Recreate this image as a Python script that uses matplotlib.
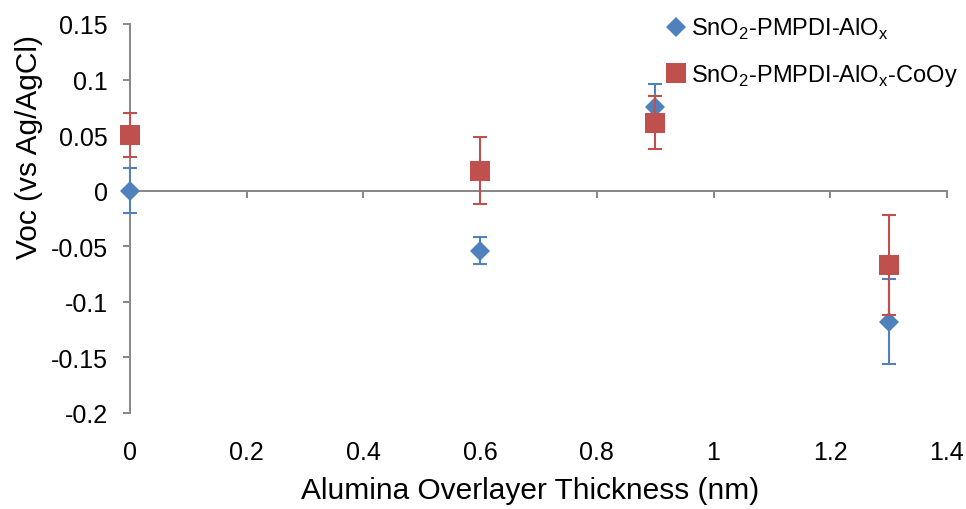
import matplotlib.pyplot as plt
from matplotlib.ticker import FormatStrFormatter

plt.rcParams['font.family'] = ['Liberation Sans', 'DejaVu Sans']
plt.rcParams['mathtext.fontset'] = 'custom'
plt.rcParams['mathtext.rm'] = 'Liberation Sans'
plt.rcParams['axes.unicode_minus'] = False

# thickness of alumina overlayer (nm)
thickness = [0, 0.6, 0.9, 1.3]

# SnO2-PMPDI-AlOx
voc_alox = [0.0, -0.054, 0.075, -0.118]
err_alox = [0.020, 0.012, 0.021, 0.038]

# SnO2-PMPDI-AlOx-CoOy
voc_cooy = [0.050, 0.018, 0.061, -0.067]
err_cooy = [0.020, 0.030, 0.024, 0.045]

xticks = [0, 0.2, 0.4, 0.6, 0.8, 1.0, 1.2, 1.4]
yticks = [-0.2, -0.15, -0.1, -0.05, 0, 0.05, 0.1, 0.15]

blue = '#4F81BD'
red = '#C0504D'
axis_grey = '#868686'

fig = plt.figure(figsize=(9.66, 5.1), dpi=100)
ax = fig.add_axes([0.1346, 0.1888, 0.8457, 0.7622])

# blue series first, then red on top
ax.errorbar(thickness, voc_alox, yerr=err_alox, fmt='none', ecolor=blue,
            elinewidth=1.5, capsize=5, capthick=1.5, clip_on=False, zorder=3)
h1, = ax.plot(thickness, voc_alox, linestyle='none', marker='D', ms=10.5,
              color=blue, mew=0, clip_on=False, zorder=4,
              label=r'SnO$_\mathregular{2}$-PMPDI-AlO$_\mathregular{x}$')
ax.errorbar(thickness, voc_cooy, yerr=err_cooy, fmt='none', ecolor=red,
            elinewidth=1.5, capsize=5, capthick=1.5, clip_on=False, zorder=5)
h2, = ax.plot(thickness, voc_cooy, linestyle='none', marker='s', ms=14.4,
              color=red, mew=0, clip_on=False, zorder=6,
              label=r'SnO$_\mathregular{2}$-PMPDI-AlO$_\mathregular{x}$-CoOy')

ax.set_xlim(0, 1.4)
ax.set_ylim(-0.2, 0.15)

# axis lines: y at x=0, x crossing at y=0
for side in ['top', 'right']:
    ax.spines[side].set_visible(False)
ax.spines['bottom'].set_position(('data', 0))
ax.spines['bottom'].set_color(axis_grey)
ax.spines['left'].set_color(axis_grey)
ax.spines['bottom'].set_linewidth(1.4)
ax.spines['left'].set_linewidth(1.4)
ax.spines['bottom'].set_zorder(2)

ax.set_xticks(xticks)
ax.set_yticks(yticks)
ax.yaxis.set_major_formatter(FormatStrFormatter('%g'))
ax.tick_params(axis='x', direction='out', length=5, width=1.4,
               color=axis_grey, labelbottom=False)
ax.tick_params(axis='y', direction='out', length=5, width=1.4,
               color=axis_grey, labelsize=18, pad=11)

# tick labels along the bottom of the plot area
sec = ax.secondary_xaxis('bottom')
sec.spines['bottom'].set_visible(False)
sec.set_xticks(xticks)
sec.xaxis.set_major_formatter(FormatStrFormatter('%g'))
sec.tick_params(length=0, labelsize=18, pad=20)
sec.set_xlabel('Alumina Overlayer Thickness (nm)', fontsize=21.5)
sec.xaxis.set_label_coords(0.49, -0.163, transform=ax.transAxes)

ax.set_ylabel('Voc (vs Ag/AgCl)', fontsize=21.5)
ax.yaxis.set_label_coords(-0.107, 0.686)

fig.legend(handles=[h1, h2], loc='upper left',
           bbox_to_anchor=(664 / 966, 1 - 17 / 510), frameon=False,
           fontsize=17, handlelength=1.0, handletextpad=0.15,
           labelspacing=0.88, borderpad=0, borderaxespad=0)

fig.savefig('out.png', dpi=100)
